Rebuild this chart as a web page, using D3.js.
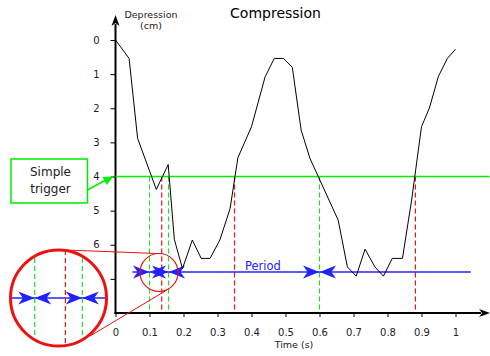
<!DOCTYPE html>
<html>
<head>
<meta charset="utf-8">
<script src="https://cdn.jsdelivr.net/npm/d3@7"></script>
<style>
  body { margin: 0; background: #fff; }
  svg { display: block; font-family: "DejaVu Sans", sans-serif; }
</style>
</head>
<body>
<div class="container"></div>
<script>
// depression curve
const timeS = [0, 0.04, 0.065, 0.12, 0.155, 0.173, 0.197, 0.226, 0.252, 0.278, 0.307, 0.337,
  0.36, 0.40, 0.44, 0.467, 0.494, 0.52, 0.546, 0.572, 0.655, 0.682, 0.708, 0.734, 0.763,
  0.788, 0.814, 0.844, 0.871, 0.90, 0.923, 0.95, 0.976, 1.0];
const depthCm = [0, 0.54, 2.88, 4.38, 3.65, 5.84, 6.70, 5.86, 6.40, 6.40, 5.86, 4.94,
  3.45, 2.54, 1.08, 0.54, 0.54, 0.80, 2.64, 3.47, 5.28, 6.65, 6.92, 6.13, 6.65,
  6.92, 6.40, 6.40, 4.69, 2.54, 2.0, 1.06, 0.54, 0.27];

const triggerTimes = [0.136, 0.35, 0.882];   // red dashes
const periodTimes = [0.1, 0.156, 0.6];       // green dashes
const zoomTimes = [0.1, 0.136, 0.156];
const triggerLevel = 4;
const periodLevel = 6.8;

const xTicks = [0, 0.1, 0.2, 0.3, 0.4, 0.5, 0.6, 0.7, 0.8, 0.9, 1];
const yTicks = [0, 1, 2, 3, 4, 5, 6, 7];

const width = 490, height = 356;
const green = "#00ee00", dashGreen = "#22dd22", red = "#ee1111", blue = "#2222ff";

const x = d3.scaleLinear().domain([0, 1]).range([115.5, 455.5]);
const y = d3.scaleLinear().domain([0, 8]).range([40, 313]);

const svg = d3.select('.container').append('svg')
    .attr('width', width).attr('height', height);

// arrow head, tip at origin pointing right
function headPath(L, H) {
    return "M0,0L" + (-L) + "," + (-H / 2) + "L" + (-L * 0.72) + ",0L" + (-L) + "," + (H / 2) + "Z";
}

// axes
const yAxis = d3.axisLeft(y).tickValues(yTicks).tickSize(5).tickPadding(11)
    .tickFormat(d3.format('d'));
const xAxis = d3.axisBottom(x).tickValues(xTicks).tickSize(4).tickPadding(12)
    .tickFormat(d => d === 0 || d === 1 ? d3.format('d')(d) : d3.format('.1f')(d));

const gy = svg.append('g').attr('transform', 'translate(' + x(0) + ',0)').call(yAxis);
const gx = svg.append('g').attr('transform', 'translate(0,' + y(8) + ')').call(xAxis);
[gx, gy].forEach(g => {
    g.select('.domain').remove();
    g.selectAll('text').attr('font-size', 10).attr('font-family', 'DejaVu Sans').attr('fill', '#222');
});

svg.append('line').attr('x1', x(0)).attr('x2', x(0)).attr('y1', 24).attr('y2', y(8) + 1)
    .attr('stroke', '#000').attr('stroke-width', 2);
svg.append('path').attr('d', headPath(11, 8))
    .attr('transform', 'translate(' + x(0) + ',15) rotate(-90)');
svg.append('line').attr('x1', x(0) - 1).attr('x2', 481).attr('y1', y(8)).attr('y2', y(8))
    .attr('stroke', '#000').attr('stroke-width', 2);
svg.append('path').attr('d', headPath(11, 8))
    .attr('transform', 'translate(490,' + y(8) + ')');

// labels
svg.append('text').attr('x', 275.5).attr('y', 18).attr('text-anchor', 'middle')
    .attr('font-size', 14).text('Compression');
svg.append('text').attr('x', 151).attr('y', 18).attr('text-anchor', 'middle')
    .attr('font-size', 9.5).attr('fill', '#222').text('Depression');
svg.append('text').attr('x', 151).attr('y', 29).attr('text-anchor', 'middle')
    .attr('font-size', 9.5).attr('fill', '#222').text('(cm)');
svg.append('text').attr('x', 294).attr('y', 348).attr('text-anchor', 'middle')
    .attr('font-size', 9.5).attr('fill', '#222').text('Time (s)');

// vertical dashes
svg.selectAll('.trig').data(triggerTimes).enter().append('line')
    .attr('x1', d => x(d)).attr('x2', d => x(d))
    .attr('y1', y(triggerLevel)).attr('y2', y(8) - 1)
    .attr('stroke', red).attr('stroke-width', 1.2).attr('stroke-dasharray', '5,3');
svg.selectAll('.per').data(periodTimes).enter().append('line')
    .attr('x1', d => x(d)).attr('x2', d => x(d))
    .attr('y1', y(triggerLevel)).attr('y2', y(8) - 1)
    .attr('stroke', dashGreen).attr('stroke-width', 1.2).attr('stroke-dasharray', '5,3');

// trigger level
svg.append('line').attr('x1', x(0)).attr('x2', x(1.1))
    .attr('y1', y(triggerLevel)).attr('y2', y(triggerLevel))
    .attr('stroke', green).attr('stroke-width', 1.5);

// period line and arrows
svg.append('line').attr('x1', x(0.05)).attr('x2', x(1.045))
    .attr('y1', y(periodLevel)).attr('y2', y(periodLevel))
    .attr('stroke', blue).attr('stroke-width', 1.5);

function periodArrows(g, xs, yv) {
    periodTimes.forEach(t => {
        if (xs(t) < -50) return;
        g.append('path').attr('d', headPath(16.5, 13)).attr('fill', blue)
            .attr('transform', 'translate(' + xs(t) + ',' + yv + ')');
        g.append('path').attr('d', headPath(16.5, 13)).attr('fill', blue)
            .attr('transform', 'translate(' + xs(t) + ',' + yv + ') rotate(180)');
    });
}
periodArrows(svg, x, y(periodLevel));
svg.append('text').attr('x', 245).attr('y', 270).attr('font-size', 11.5)
    .attr('fill', blue).text('Period');

// curve
const line = d3.line().x((d, i) => x(timeS[i])).y(d => y(d));
svg.append('path').datum(depthCm).attr('d', line)
    .attr('fill', 'none').attr('stroke', '#000').attr('stroke-width', 1);

// simple trigger box
svg.append('rect').attr('x', 11).attr('y', 159).attr('width', 76.5).attr('height', 44)
    .attr('fill', '#fff').attr('stroke', green).attr('stroke-width', 1.5);
svg.append('text').attr('x', 50.5).attr('y', 176).attr('text-anchor', 'middle')
    .attr('font-size', 12).attr('fill', '#222').text('Simple');
svg.append('text').attr('x', 50.5).attr('y', 193).attr('text-anchor', 'middle')
    .attr('font-size', 12).attr('fill', '#222').text('trigger');
const ax0 = 87.5, ay0 = 190, ax1 = x(0) - 2, ay1 = y(triggerLevel);
const ang = Math.atan2(ay1 - ay0, ax1 - ax0) * 180 / Math.PI;
svg.append('line').attr('x1', ax0).attr('y1', ay0).attr('x2', ax1 - 6).attr('y2', ay1 + 2.5)
    .attr('stroke', green).attr('stroke-width', 1.5);
svg.append('path').attr('d', "M0,0L-10,-4.5L-10,4.5Z").attr('fill', green)
    .attr('transform', 'translate(' + ax1 + ',' + ay1 + ') rotate(' + ang + ')');

// zoom circle in the plot
const cs = {x: 159, y: 272.5, r: 19};
const cb = {x: 58.5, y: 298, r: 48};
svg.append('circle').attr('cx', cs.x).attr('cy', cs.y).attr('r', cs.r)
    .attr('fill', 'none').attr('stroke', red).attr('stroke-width', 1.2);
svg.append('line').attr('x1', 66).attr('y1', 250).attr('x2', 157).attr('y2', 253.5)
    .attr('stroke', red).attr('stroke-width', 1);
svg.append('line').attr('x1', 90).attr('y1', 336).attr('x2', 167).attr('y2', 290)
    .attr('stroke', red).attr('stroke-width', 1);

// magnified inset
const mag = 2.5;
const xi = d3.scaleLinear().domain([0, 1])
    .range([cb.x - (x.invert(cs.x)) * 340 * mag, cb.x + (1 - x.invert(cs.x)) * 340 * mag]);
const yiLevel = cb.y;
svg.append('clipPath').attr('id', 'inset-clip').append('circle')
    .attr('cx', cb.x).attr('cy', cb.y).attr('r', cb.r - 1.5);
svg.append('circle').attr('cx', cb.x).attr('cy', cb.y).attr('r', cb.r).attr('fill', '#fff');
const gi = svg.append('g').attr('clip-path', 'url(#inset-clip)');
gi.append('line').attr('x1', cb.x - cb.r).attr('x2', cb.x + cb.r)
    .attr('y1', yiLevel).attr('y2', yiLevel).attr('stroke', blue).attr('stroke-width', 1.5);
zoomTimes.forEach(t => {
    const isTrig = triggerTimes.indexOf(t) >= 0;
    gi.append('line').attr('x1', xi(t)).attr('x2', xi(t))
        .attr('y1', cb.y - cb.r).attr('y2', cb.y + cb.r)
        .attr('stroke', isTrig ? red : dashGreen).attr('stroke-width', 1.2)
        .attr('stroke-dasharray', '5,3');
});
periodArrows(gi, t => (t > 0.3 ? -100 : xi(t)), yiLevel);
svg.append('circle').attr('cx', cb.x).attr('cy', cb.y).attr('r', cb.r)
    .attr('fill', 'none').attr('stroke', red).attr('stroke-width', 3);
</script>
</body>
</html>
